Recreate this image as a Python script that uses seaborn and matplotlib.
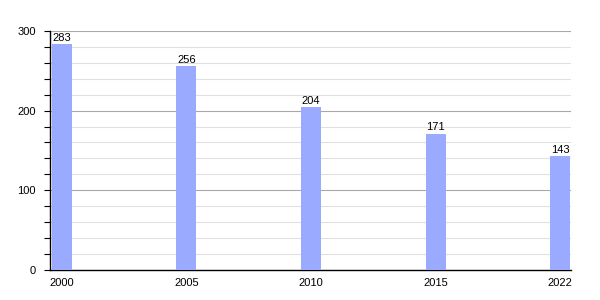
import matplotlib
matplotlib.use("Agg")
import matplotlib.pyplot as plt
import seaborn as sns
import pandas as pd
from matplotlib.ticker import MultipleLocator

years = ["2000", "2005", "2010", "2015", "2022"]
values = [283, 256, 204, 171, 143]

sns.set_style("white")
plt.rcParams['font.family'] = ['Liberation Sans', 'DejaVu Sans']
plt.rcParams['text.color'] = 'black'
plt.rcParams['xtick.color'] = 'black'
plt.rcParams['ytick.color'] = 'black'

df = pd.DataFrame({"year": years, "value": values})
fig = plt.figure(figsize=(6, 3), dpi=100)
ax = fig.add_axes([0.083, 0.1, 0.869, 0.797])
sns.barplot(data=df, x="year", y="value", color="#99aaff", saturation=1, width=0.16,
            ax=ax, zorder=3, edgecolor="none", linewidth=0)

ax.set_ylim(0, 300)
ax.set_xlim(-0.096, 4.088)
ax.yaxis.set_major_locator(MultipleLocator(100))
ax.yaxis.set_minor_locator(MultipleLocator(20))
ax.grid(which="minor", axis="y", color="#e0e0e0", linewidth=0.8, zorder=0)
ax.grid(which="major", axis="y", color="#a8a8a8", linewidth=0.8, zorder=0)
ax.set_axisbelow(True)
for s in ["top", "right"]:
    ax.spines[s].set_visible(False)
ax.spines["left"].set_color("black")
ax.spines["bottom"].set_color("black")
ax.spines["left"].set_linewidth(1)
ax.spines["bottom"].set_linewidth(1)
ax.tick_params(axis="y", which="both", left=True, length=4, width=0.8, color="black", labelsize=8, pad=6, labelcolor="black")
ax.tick_params(axis="x", bottom=False, labelsize=8, pad=2, labelcolor="black")
ax.set_xlabel("")
ax.set_ylabel("")
for c in ax.containers:
    ax.bar_label(c, labels=[str(v) for v in values], fontsize=8, padding=1, color="black")

fig.savefig("out.png", dpi=100)
